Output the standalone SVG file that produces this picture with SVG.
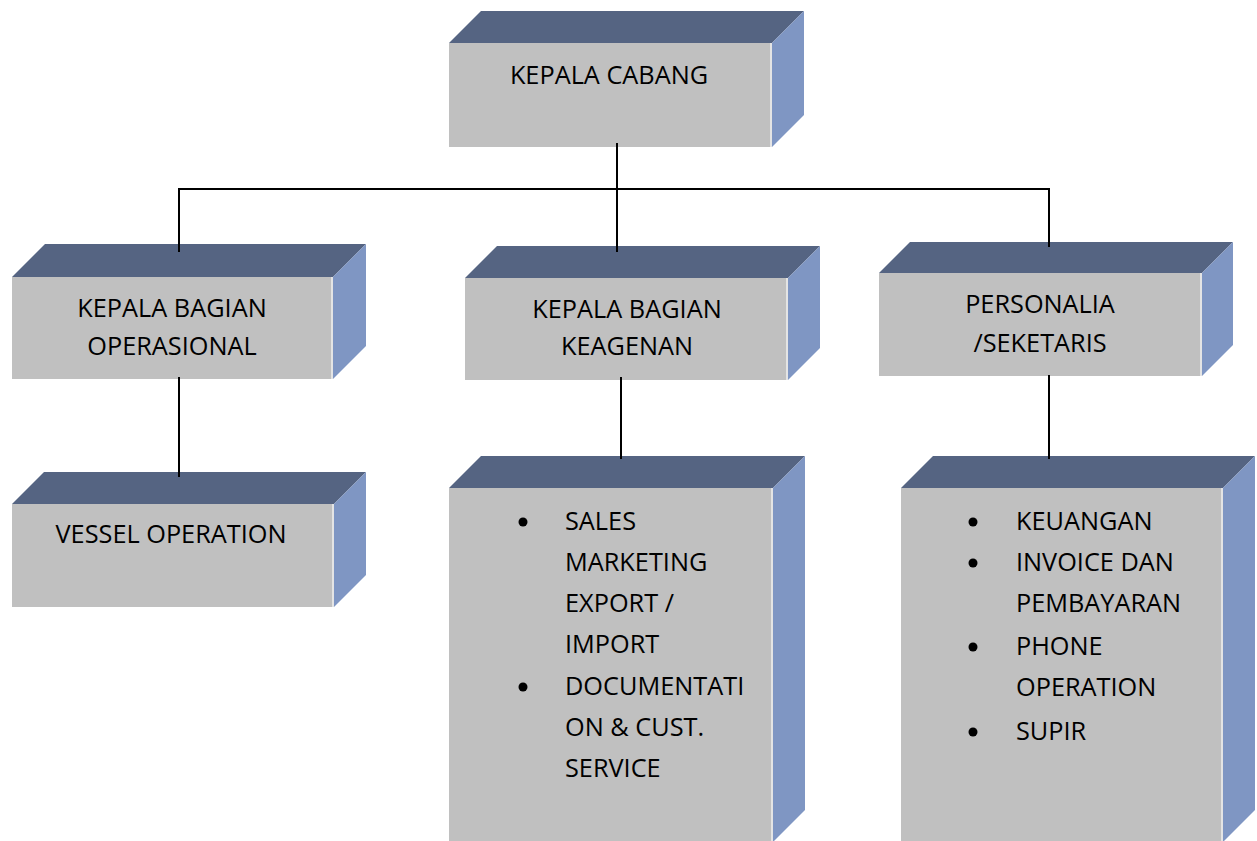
<svg xmlns="http://www.w3.org/2000/svg" width="1257" height="841" viewBox="0 0 1257 841">
  <style>
    .front { fill: #c0c0c0; }
    .top { fill: #556482; }
    .side { fill: #7f96c3; }
    .edge { stroke: #e4e4e4; stroke-width: 2; fill: none; }
    .lbl { font-family: "Open Sans", "Liberation Sans", sans-serif; font-size: 25.3px; fill: #000; }
    .mid { text-anchor: middle; }
    .wire { stroke: #000; stroke-width: 2; fill: none; }
    .dot { fill: #000; }
  </style>
  <rect width="1257" height="841" fill="#fff"/>

  <!-- KEPALA CABANG: front 449,43 323x104, depth 32 -->
  <g id="kepala-cabang">
    <polygon class="top" points="449,43 481,11 804,11 772,43"/>
    <polygon class="side" points="772,43 804,11 804,115 772,147"/>
    <rect class="front" x="449" y="43" width="323" height="104"/>
    <line class="edge" x1="771" y1="43" x2="771" y2="147"/>
    <text class="lbl mid" x="609" y="84">KEPALA CABANG</text>
  </g>

  <!-- KEPALA BAGIAN OPERASIONAL -->
  <g id="kepala-operasional">
    <polygon class="top" points="12,277 45,244 366,244 333,277"/>
    <polygon class="side" points="333,277 366,244 366,346 333,379"/>
    <rect class="front" x="12" y="277" width="321" height="102"/>
    <line class="edge" x1="332" y1="277" x2="332" y2="379"/>
    <text class="lbl mid" x="172" y="317">KEPALA BAGIAN</text>
    <text class="lbl mid" x="172" y="355">OPERASIONAL</text>
  </g>

  <!-- KEPALA BAGIAN KEAGENAN -->
  <g id="kepala-keagenan">
    <polygon class="top" points="465,278 497,246 820,246 788,278"/>
    <polygon class="side" points="788,278 820,246 820,348 788,380"/>
    <rect class="front" x="465" y="278" width="323" height="102"/>
    <line class="edge" x1="787" y1="278" x2="787" y2="380"/>
    <text class="lbl mid" x="627" y="318">KEPALA BAGIAN</text>
    <text class="lbl mid" x="627" y="355">KEAGENAN</text>
  </g>

  <!-- PERSONALIA /SEKETARIS -->
  <g id="personalia">
    <polygon class="top" points="879,273 910,242 1233,242 1202,273"/>
    <polygon class="side" points="1202,273 1233,242 1233,345 1202,376"/>
    <rect class="front" x="879" y="273" width="323" height="103"/>
    <line class="edge" x1="1201" y1="273" x2="1201" y2="376"/>
    <text class="lbl mid" x="1040" y="313">PERSONALIA</text>
    <text class="lbl mid" x="1040" y="352">/SEKETARIS</text>
  </g>

  <!-- VESSEL OPERATION -->
  <g id="vessel-operation">
    <polygon class="top" points="12,504 44,472 366,472 334,504"/>
    <polygon class="side" points="334,504 366,472 366,575 334,607"/>
    <rect class="front" x="12" y="504" width="322" height="103"/>
    <line class="edge" x1="333" y1="504" x2="333" y2="607"/>
    <text class="lbl mid" x="171" y="543">VESSEL OPERATION</text>
  </g>

  <!-- Keagenan staff list -->
  <g id="keagenan-staff">
    <polygon class="top" points="449,488 481,456 805,456 773,488"/>
    <polygon class="side" points="773,488 805,456 805,810 773,842"/>
    <rect class="front" x="449" y="488" width="324" height="360"/>
    <line class="edge" x1="772" y1="488" x2="772" y2="841"/>
    <circle class="dot" cx="523" cy="522" r="4.5"/>
    <circle class="dot" cx="523" cy="687" r="4.5"/>
    <text class="lbl" x="565" y="530">SALES</text>
    <text class="lbl" x="565" y="571">MARKETING</text>
    <text class="lbl" x="565" y="612">EXPORT /</text>
    <text class="lbl" x="565" y="653">IMPORT</text>
    <text class="lbl" x="565" y="695">DOCUMENTATI</text>
    <text class="lbl" x="565" y="736">ON &amp; CUST.</text>
    <text class="lbl" x="565" y="777">SERVICE</text>
  </g>

  <!-- Personalia staff list -->
  <g id="personalia-staff">
    <polygon class="top" points="901,488 933,456 1255,456 1223,488"/>
    <polygon class="side" points="1223,488 1255,456 1255,810 1223,842"/>
    <rect class="front" x="901" y="488" width="322" height="360"/>
    <line class="edge" x1="1222" y1="488" x2="1222" y2="841"/>
    <circle class="dot" cx="973" cy="522" r="4.5"/>
    <circle class="dot" cx="973" cy="563" r="4.5"/>
    <circle class="dot" cx="973" cy="647" r="4.5"/>
    <circle class="dot" cx="973" cy="732" r="4.5"/>
    <text class="lbl" x="1016" y="530">KEUANGAN</text>
    <text class="lbl" x="1016" y="571">INVOICE DAN</text>
    <text class="lbl" x="1016" y="612">PEMBAYARAN</text>
    <text class="lbl" x="1016" y="655">PHONE</text>
    <text class="lbl" x="1016" y="696">OPERATION</text>
    <text class="lbl" x="1016" y="740">SUPIR</text>
  </g>

  <!-- connectors -->
  <g id="connectors">
    <line class="wire" x1="617" y1="143" x2="617" y2="252"/>
    <polyline class="wire" points="179,252 179,189 1049,189 1049,247"/>
    <line class="wire" x1="179" y1="377" x2="179" y2="477"/>
    <line class="wire" x1="621" y1="377" x2="621" y2="459"/>
    <line class="wire" x1="1049" y1="375" x2="1049" y2="459"/>
  </g>
</svg>
